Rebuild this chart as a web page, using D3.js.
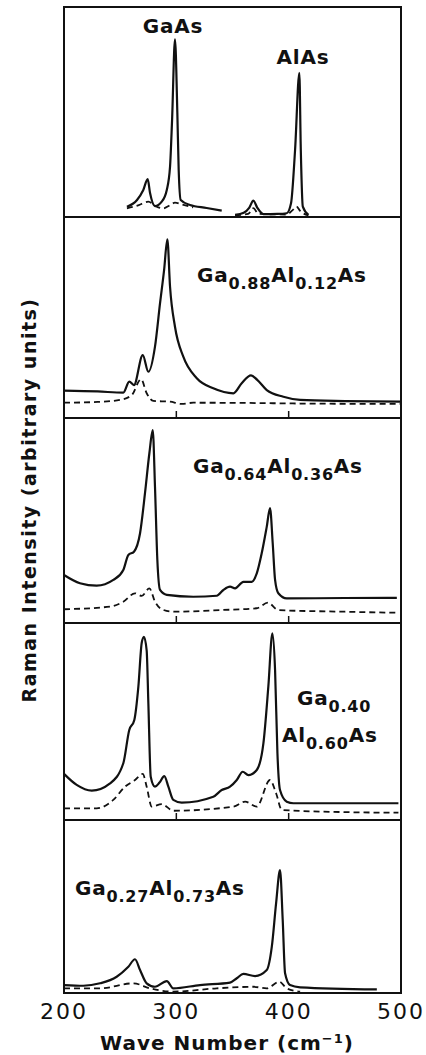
<!DOCTYPE html>
<html>
<head>
<meta charset="utf-8">
<script src="https://cdn.jsdelivr.net/npm/d3@7"></script>
<style>
  body { margin: 0; background: #fff; }
  text { font-family: "DejaVu Sans", sans-serif; fill: #111; }
</style>
</head>
<body>
<script>
// x: wave number (cm-1), y: intensity in arbitrary units (0 = panel floor, 100 = panel top)
var xTicks = [200, 300, 400, 500];

// panel 1 : GaAs and AlAs
var gaasSolid = [[256,4.9],[265,8.1],[270.6,12.9],[274.5,18],[276.6,11.4],[281,5.2],[287,7.3],[291.5,12.9],[294.4,24],[296.2,46],[298.8,84.6],[300.9,49.5],[302.1,22.4],[303.9,8.1],[312.2,5.7],[327,4.3],[340.4,3]];
var gaasDash = [[256,4.1],[266,5.5],[275,7.3],[282,5],[288.4,4.1],[294,5.5],[298.8,6.8],[305,6],[315,4.6]];
var alasSolid = [[352.3,1],[360,2],[365,4.5],[368.6,7.8],[372,4.5],[377.5,1.4],[390,1.5],[398.3,1.8],[402.1,6.5],[405.7,31.9],[409.5,68.7],[410.8,31.9],[412.6,4.9],[417.6,1]];
var alasDash = [[352.3,0.8],[364,1.5],[368.6,4.2],[373,1.5],[398,1.2],[404,3.5],[407,5],[410,3],[417.6,0.8]];

// panel 2 : Ga0.88Al0.12As
var p2Solid = [[200,13.6],[230,13.2],[252.8,12.6],[258.1,18.1],[262.3,16.4],[270.1,31.3],[275.1,23],[281,35.5],[285.5,57.1],[289.1,73.6],[292,88.9],[294.4,65.3],[298.8,45.4],[306.2,30.5],[318.2,19.8],[332.9,14.8],[350.8,12.3],[358.2,17.3],[366.5,21.2],[372,19],[380.5,13.9],[395.3,10.6],[410.2,9],[450,8.4],[499.2,8.1]];
var p2Dash = [[200,7.6],[230,8],[249.9,9],[260.3,11.4],[268.6,19.3],[273.6,12.3],[279.5,8.5],[294.4,8.1],[304.8,7],[315.1,7.6],[360,7.5],[410.2,7.2],[499.2,7]];

// panel 3 : Ga0.64Al0.36As
var p3Solid = [[200,23.4],[214.2,19.4],[229.1,18.2],[243.9,21],[252.8,25.9],[257.3,33.2],[262.3,34.8],[267.7,43.8],[272.1,63.3],[276,82.8],[279,94.1],[281,66.5],[283.1,30.7],[285.5,16.1],[291.5,13.7],[315.1,12.8],[336,13.3],[341.9,16.1],[347.8,17.7],[352.3,16.9],[359.7,20.1],[367.1,20.1],[371.6,24.2],[376,34],[380.5,47],[383.4,56],[385.8,38.9],[387.9,21],[390.8,14.5],[398.3,12],[450,12.2],[496.3,12.3]];
var p3Dash = [[200,6.7],[241,8],[252.8,10.4],[263.2,14.5],[269.2,13.2],[276,16.9],[281,10.4],[287,6.7],[297.3,5.5],[338.9,6.3],[371.6,7.2],[381.5,9.9],[390.8,6.3],[450,5.5],[496.3,5]];

// panel 4 : Ga0.40Al0.60As
var p4Solid = [[200,23.4],[211.3,17.8],[224.7,14.9],[241,18.6],[252.8,28.8],[258.1,45.7],[262.6,50.8],[266.2,67.7],[269.2,90],[271.2,93],[273.6,86],[275.1,59.2],[277.2,22],[281,16.9],[285,19],[289.3,22.3],[292.9,16.9],[297.3,10.2],[304.8,8.8],[332.9,11.8],[340.4,15.2],[347.8,16.9],[353.8,20.3],[359.1,24.5],[364.1,22.8],[371.6,25.4],[377.5,38.9],[381.9,67.7],[385.5,94.8],[387.9,76.1],[390,33.9],[392.3,15.2],[398.3,9.3],[404.2,8.5],[497.7,8.5]];
var p4Dash = [[200,5.9],[229.1,5.9],[243.9,10.2],[254.3,16.9],[263.2,20.3],[270.1,23.4],[273.6,16.9],[278.1,6.8],[287,8.1],[297.3,4.7],[350.8,6.8],[361.2,9.3],[371.6,6.8],[383.4,20.3],[388.8,13.6],[393.9,5.1],[450,4],[497.7,3.7]];

// panel 5 : Ga0.27Al0.73As
var p5Solid = [[200,4.6],[217.2,4.2],[232.1,5.6],[246.9,9.4],[257.3,15.2],[263.2,19.5],[267.7,13.3],[273.6,5.6],[281,3.6],[291.5,6.9],[297.3,2.7],[321.1,4.6],[347.8,6],[353.8,8.5],[359.7,11],[370.1,9.8],[380.5,13.3],[385,26.8],[388.8,51.8],[392.3,71.1],[394.7,42.2],[396.8,11.4],[401.2,4.6],[410.2,3.3],[478.5,2.1]];
var p5Dash = [[200,2.7],[232.1,2.7],[261.7,5.6],[276.6,2.7],[297.3,0.8],[336,2.7],[368.6,3.6],[380.5,2.7],[391.7,6.5],[398.3,2.7],[410.2,0.8]];

var panelNames = [
  [['GaAs', 0]],
  [['Ga', 0], ['0.88', 1], ['Al', 0], ['0.12', 1], ['As', 0]],
  [['Ga', 0], ['0.64', 1], ['Al', 0], ['0.36', 1], ['As', 0]],
  [['Ga', 0], ['0.40', 1]],
  [['Ga', 0], ['0.27', 1], ['Al', 0], ['0.73', 1], ['As', 0]]
];

var width = 426, height = 1055;
var svg = d3.select('body').append('svg')
    .attr('width', width)
    .attr('height', height);

var x = d3.scaleLinear().domain([200, 500]).range([64, 401]);

// panel floor / roof in pixels
var edges = [7, 217, 418, 623, 820, 993];
var panels = [
  {series: [[gaasSolid, alasSolid], [gaasDash, alasDash]], ticks: false},
  {series: [[p2Solid], [p2Dash]], ticks: true},
  {series: [[p3Solid], [p3Dash]], ticks: true},
  {series: [[p4Solid], [p4Dash]], ticks: true},
  {series: [[p5Solid], [p5Dash]], ticks: false}
];

// outer frame
svg.append('rect')
    .attr('x', x(200)).attr('y', edges[0])
    .attr('width', x(500) - x(200)).attr('height', edges[5] - edges[0])
    .attr('fill', 'none').attr('stroke', '#111').attr('stroke-width', 2);

panels.forEach(function (p, i) {
    var y = d3.scaleLinear().domain([0, 100]).range([edges[i + 1], edges[i]]);
    var line = d3.line()
        .x(function (d) { return x(d[0]); })
        .y(function (d) { return y(d[1]); })
        .curve(d3.curveMonotoneX);

    if (i < 4) {
        svg.append('line')
            .attr('x1', x(200)).attr('x2', x(500))
            .attr('y1', edges[i + 1]).attr('y2', edges[i + 1])
            .attr('stroke', '#111').attr('stroke-width', 2);
    }
    if (p.ticks) {
        svg.selectAll(null)
            .data([300, 400])
            .enter()
            .append('line')
            .attr('x1', function (d) { return x(d); })
            .attr('x2', function (d) { return x(d); })
            .attr('y1', edges[i + 1])
            .attr('y2', edges[i + 1] - 7)
            .attr('stroke', '#111').attr('stroke-width', 1.5);
    }

    p.series[1].forEach(function (s) {
        svg.append('path').datum(s)
            .attr('d', line)
            .attr('fill', 'none').attr('stroke', '#111')
            .attr('stroke-width', 1.8)
            .attr('stroke-dasharray', '6,4');
    });
    p.series[0].forEach(function (s) {
        svg.append('path').datum(s)
            .attr('d', line)
            .attr('fill', 'none').attr('stroke', '#111')
            .attr('stroke-width', 2.2)
            .attr('stroke-linejoin', 'round');
    });
});

function formula(xp, yp, parts, anchor) {
    var t = svg.append('text')
        .attr('x', xp).attr('y', yp)
        .attr('font-weight', 'bold')
        .attr('font-size', 20)
        .attr('letter-spacing', 0.8)
        .attr('text-anchor', anchor || 'start');
    var low = 0;
    parts.forEach(function (pt) {
        var sub = pt[1];
        t.append('tspan')
            .attr('dy', sub === low ? 0 : (sub ? 7 : -7))
            .attr('font-size', sub ? 16 : 20)
            .text(pt[0]);
        low = sub;
    });
    return t;
}

formula(173, 33, panelNames[0], 'middle');
formula(303, 64, [['AlAs', 0]], 'middle');
formula(197, 282, panelNames[1]);
formula(193, 473, panelNames[2]);
formula(297, 705, panelNames[3]);
formula(282, 742, [['Al', 0], ['0.60', 1], ['As', 0]]);
formula(75, 895, panelNames[4]);

// x tick labels
svg.selectAll('.tl')
    .data(xTicks)
    .enter()
    .append('text')
    .attr('class', 'tl')
    .attr('x', function (d) { return x(d); })
    .attr('y', 1019)
    .attr('text-anchor', 'middle')
    .attr('font-size', 22)
    .attr('letter-spacing', 2)
    .text(function (d) { return d; });

var xl = svg.append('text')
    .attr('x', 227).attr('y', 1050)
    .attr('text-anchor', 'middle')
    .attr('font-size', 20)
    .attr('font-weight', 'bold')
    .attr('letter-spacing', 1)
    .text('Wave  Number (cm');
xl.append('tspan').attr('dy', -7).attr('font-size', 13).text('−1');
xl.append('tspan').attr('dy', 7).text(')');

svg.append('text')
    .attr('transform', 'translate(36,500) rotate(-90)')
    .attr('text-anchor', 'middle')
    .attr('font-size', 19)
    .attr('font-weight', 'bold')
    .attr('letter-spacing', 1.5)
    .text('Raman  Intensity  (arbitrary  units)');
</script>
</body>
</html>
